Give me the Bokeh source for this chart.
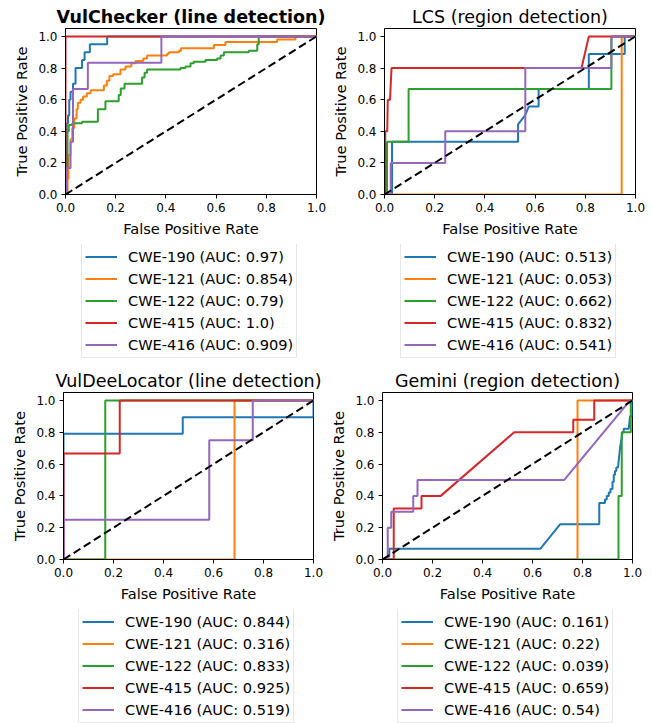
from bokeh.plotting import figure
from bokeh.models import Legend, LegendItem, FixedTicker, PrintfTickFormatter, Range1d
from bokeh.layouts import column, row
from bokeh.embed import file_html
from bokeh.resources import INLINE

CWES = ["CWE-190", "CWE-121", "CWE-122", "CWE-415", "CWE-416"]
COLORS = ["#1f77b4", "#ff7f0e", "#2ca02c", "#d62728", "#9467bd"]
TICKS = [0.0, 0.2, 0.4, 0.6, 0.8, 1.0]
FONT = "DejaVu Sans"

# ---------------- VulChecker (line detection) ----------------
VC_AUC = [0.97, 0.854, 0.79, 1.0, 0.909]
VC_FPR_190 = [0, 0.005, 0.005, 0.01, 0.01, 0.015, 0.015, 0.02, 0.02, 0.03, 0.03, 0.04, 0.04, 0.066, 0.066, 0.076, 0.076, 0.097, 0.097, 0.166, 0.166, 1.0]
VC_TPR_190 = [0, 0, 0.45, 0.45, 0.5, 0.5, 0.6, 0.6, 0.65, 0.65, 0.7, 0.7, 0.8, 0.8, 0.85, 0.85, 0.9, 0.9, 0.95, 0.95, 1.0, 1.0]
VC_FPR_121 = [0, 0.008, 0.008, 0.012, 0.012, 0.02, 0.02, 0.027, 0.027, 0.035, 0.035, 0.044, 0.044, 0.049, 0.049, 0.06, 0.06, 0.07, 0.07, 0.085, 0.085, 0.1, 0.1, 0.153, 0.153, 0.165, 0.165, 0.175, 0.175, 0.19, 0.19, 0.219, 0.219, 0.239, 0.239, 0.262, 0.262, 0.279, 0.279, 0.31, 0.31, 0.325, 0.325, 0.405, 0.405, 0.412, 0.412, 0.452, 0.452, 0.46, 0.46, 0.591, 0.591, 0.637, 0.637, 0.843, 0.843, 0.916, 0.916, 1.0]
VC_TPR_121 = [0, 0, 0.1, 0.1, 0.25, 0.25, 0.35, 0.35, 0.42, 0.42, 0.48, 0.48, 0.54, 0.54, 0.58, 0.58, 0.6, 0.6, 0.62, 0.62, 0.64, 0.64, 0.66, 0.66, 0.69, 0.69, 0.72, 0.72, 0.75, 0.75, 0.76, 0.76, 0.79, 0.79, 0.81, 0.81, 0.83, 0.83, 0.845, 0.845, 0.86, 0.86, 0.88, 0.88, 0.89, 0.89, 0.9, 0.9, 0.91, 0.91, 0.925, 0.925, 0.945, 0.945, 0.965, 0.965, 0.98, 0.98, 1.0, 1.0]
VC_FPR_122 = [0, 0.004, 0.004, 0.008, 0.008, 0.013, 0.013, 0.027, 0.027, 0.066, 0.066, 0.129, 0.129, 0.159, 0.159, 0.212, 0.212, 0.22, 0.22, 0.235, 0.235, 0.305, 0.305, 0.315, 0.315, 0.325, 0.325, 0.458, 0.458, 0.478, 0.478, 0.498, 0.498, 0.511, 0.511, 0.558, 0.558, 0.604, 0.604, 0.618, 0.618, 0.631, 0.631, 0.73, 0.73, 0.764, 0.764, 0.77, 0.77, 1.0]
VC_TPR_122 = [0, 0, 0.17, 0.17, 0.4, 0.4, 0.44, 0.44, 0.45, 0.45, 0.46, 0.46, 0.54, 0.54, 0.59, 0.59, 0.63, 0.63, 0.67, 0.67, 0.7, 0.7, 0.74, 0.74, 0.77, 0.77, 0.79, 0.79, 0.8, 0.8, 0.81, 0.81, 0.83, 0.83, 0.84, 0.84, 0.85, 0.85, 0.86, 0.86, 0.88, 0.88, 0.9, 0.9, 0.91, 0.91, 0.95, 0.95, 1.0, 1.0]
VC_FPR_415 = [0, 0, 1.0]
VC_TPR_415 = [0, 1.0, 1.0]
VC_FPR_416 = [0, 0.005, 0.005, 0.02, 0.02, 0.03, 0.03, 0.089, 0.089, 0.382, 0.382, 1.0]
VC_TPR_416 = [0, 0, 0.167, 0.167, 0.333, 0.333, 0.667, 0.667, 0.833, 0.833, 1.0, 1.0]

# ---------------- LCS (region detection) ----------------
LCS_AUC = [0.513, 0.053, 0.662, 0.832, 0.541]
LCS_FPR_190 = [0, 0.03, 0.03, 0.532, 0.532, 0.56, 0.575, 0.614, 0.614, 0.814, 0.814, 0.957, 0.957, 1.0]
LCS_TPR_190 = [0, 0, 0.333, 0.333, 0.444, 0.5, 0.556, 0.556, 0.667, 0.667, 0.889, 0.889, 1.0, 1.0]
LCS_FPR_121 = [0, 0.945, 0.945, 1.0]
LCS_TPR_121 = [0, 0, 1.0, 1.0]
LCS_FPR_122 = [0, 0.01, 0.01, 0.096, 0.096, 0.904, 0.904, 1.0]
LCS_TPR_122 = [0, 0, 0.333, 0.333, 0.667, 0.667, 1.0, 1.0]
LCS_FPR_415 = [0, 0.003, 0.003, 0.011, 0.013, 0.022, 0.028, 0.785, 0.814, 1.0]
LCS_TPR_415 = [0, 0, 0.4, 0.4, 0.6, 0.6, 0.8, 0.8, 1.0, 1.0]
LCS_FPR_416 = [0, 0.025, 0.025, 0.242, 0.242, 0.561, 0.561, 0.904, 0.904, 1.0]
LCS_TPR_416 = [0, 0, 0.2, 0.2, 0.4, 0.4, 0.8, 0.8, 1.0, 1.0]

# ---------------- VulDeeLocator (line detection) ----------------
VDL_AUC = [0.844, 0.316, 0.833, 0.925, 0.519]
VDL_FPR_190 = [0, 0, 0.477, 0.477, 1.0, 1.0]
VDL_TPR_190 = [0, 0.79, 0.79, 0.895, 0.895, 1.0]
VDL_FPR_121 = [0, 0.684, 0.684, 1.0]
VDL_TPR_121 = [0, 0, 1.0, 1.0]
VDL_FPR_122 = [0, 0.167, 0.167, 1.0]
VDL_TPR_122 = [0, 0, 1.0, 1.0]
VDL_FPR_415 = [0, 0, 0.225, 0.225, 1.0]
VDL_TPR_415 = [0, 0.667, 0.667, 1.0, 1.0]
VDL_FPR_416 = [0, 0, 0.583, 0.583, 0.757, 0.757, 1.0]
VDL_TPR_416 = [0, 0.25, 0.25, 0.75, 0.75, 1.0, 1.0]

# ---------------- Gemini (region detection) ----------------
GEM_AUC = [0.161, 0.22, 0.039, 0.659, 0.54]
GEM_FPR_190 = [0, 0.027, 0.027, 0.631, 0.711, 0.867, 0.867, 0.89, 0.89, 0.897, 0.897, 0.905, 0.905, 0.912, 0.912, 0.92, 0.92, 0.925, 0.925, 0.93, 0.93, 0.935, 0.935, 0.942, 0.95, 0.96, 0.965, 0.965, 0.985, 0.99, 1.0, 1.0]
GEM_TPR_190 = [0, 0.02, 0.067, 0.067, 0.222, 0.222, 0.356, 0.356, 0.378, 0.378, 0.4, 0.4, 0.422, 0.422, 0.444, 0.444, 0.489, 0.489, 0.533, 0.533, 0.556, 0.556, 0.578, 0.578, 0.7, 0.8, 0.8, 0.822, 0.822, 0.9, 0.9, 1.0]
GEM_FPR_121 = [0, 0.78, 0.78, 1.0]
GEM_TPR_121 = [0, 0, 1.0, 1.0]
GEM_FPR_122 = [0, 0.944, 0.944, 0.957, 0.957, 0.993, 0.993, 1.0]
GEM_TPR_122 = [0, 0, 0.4, 0.4, 0.8, 0.8, 1.0, 1.0]
GEM_FPR_415 = [0, 0.045, 0.045, 0.156, 0.156, 0.233, 0.527, 0.763, 0.763, 0.847, 0.847, 1.0]
GEM_TPR_415 = [0, 0, 0.32, 0.32, 0.4, 0.4, 0.8, 0.8, 0.879, 0.879, 1.0, 1.0]
GEM_FPR_416 = [0, 0.021, 0.021, 0.035, 0.035, 0.123, 0.123, 0.14, 0.14, 0.727, 0.99, 1.0]
GEM_TPR_416 = [0, 0, 0.2, 0.2, 0.3, 0.3, 0.4, 0.4, 0.5, 0.5, 1.0, 1.0]

DIAG_X = [0, 1]
DIAG_Y = [0, 1]

LEG_BOX_H = 114


def make_panel(title, bold, curves, aucs, ml, fw, mr, fh, mt, leg_dx, leg_h):
    p = figure(frame_width=fw, frame_height=fh,
               x_range=Range1d(0, 1), y_range=Range1d(0, 1.05),
               output_backend="svg", toolbar_location=None,
               min_border_left=ml, min_border_right=mr,
               min_border_top=mt, min_border_bottom=50,
               background_fill_color="white", border_fill_color="white")
    p.title.text = title
    p.title.align = "center"
    p.title.text_font = FONT
    p.title.text_font_size = "17.5px"
    p.title.text_font_style = "bold" if bold else "normal"
    p.title.text_color = "black"
    p.title.standoff = 3
    p.grid.visible = False
    p.outline_line_color = "black"
    p.outline_line_width = 1
    p.outline_line_alpha = 1
    for ax in (p.xaxis[0], p.yaxis[0]):
        ax.ticker = FixedTicker(ticks=TICKS)
        ax.formatter = PrintfTickFormatter(format="%.1f")
        ax.minor_tick_line_color = None
        ax.major_tick_out = 4
        ax.major_tick_in = 0
        ax.major_label_standoff = 4
        ax.major_label_text_font = FONT
        ax.major_label_text_font_size = "12px"
        ax.major_label_text_color = "black"
        ax.axis_label_text_font = FONT
        ax.axis_label_text_font_size = "14.6px"
        ax.axis_label_text_font_style = "normal"
        ax.axis_label_text_color = "black"
        ax.axis_label_standoff = 5
        ax.axis_line_color = "black"
        ax.major_tick_line_color = "black"
    p.xaxis.axis_label = "False Positive Rate"
    p.yaxis.axis_label = "True Positive Rate"

    # separate, axis-less figure (same frame geometry) holding only the legend box
    lf = figure(frame_width=fw, frame_height=leg_h,
                x_range=Range1d(10, 11), y_range=Range1d(10, 11),
                x_axis_type=None, y_axis_type=None, output_backend="svg",
                toolbar_location=None, min_border_left=ml, min_border_right=mr,
                min_border_top=0, min_border_bottom=0,
                background_fill_color="white", border_fill_color="white")
    lf.outline_line_color = None
    lf.grid.visible = False

    items = []
    for (xs, ys), color, cwe, auc in zip(curves, COLORS, CWES, aucs):
        p.line(xs, ys, line_color=color, line_width=2)
        r = lf.line(xs, ys, line_color=color, line_width=2)
        items.append(LegendItem(label=f"{cwe} (AUC: {auc})", renderers=[r]))
    p.line(DIAG_X, DIAG_Y, line_color="black", line_width=2, line_dash="8 4")

    legend = Legend(items=items, location=(leg_dx, leg_h - LEG_BOX_H), orientation="vertical",
                    label_text_font=FONT, label_text_font_size="14.6px",
                    label_text_color="black",
                    glyph_width=32, glyph_height=19, label_height=19,
                    spacing=3, padding=3, label_standoff=11, margin=0,
                    border_line_color="#d0d0d0", border_line_width=1,
                    background_fill_color="white", background_fill_alpha=1)
    lf.add_layout(legend, "center")
    return column(p, lf)


c1 = make_panel("VulChecker (line detection)", True,
                [(VC_FPR_190, VC_TPR_190), (VC_FPR_121, VC_TPR_121), (VC_FPR_122, VC_TPR_122),
                 (VC_FPR_415, VC_TPR_415), (VC_FPR_416, VC_TPR_416)], VC_AUC,
                65, 251, 10, 166, 28, 16, 118)
c2 = make_panel("LCS (region detection)", False,
                [(LCS_FPR_190, LCS_TPR_190), (LCS_FPR_121, LCS_TPR_121), (LCS_FPR_122, LCS_TPR_122),
                 (LCS_FPR_415, LCS_TPR_415), (LCS_FPR_416, LCS_TPR_416)], LCS_AUC,
                58, 251, 17, 166, 28, 16, 118)
c3 = make_panel("VulDeeLocator (line detection)", False,
                [(VDL_FPR_190, VDL_TPR_190), (VDL_FPR_121, VDL_TPR_121), (VDL_FPR_122, VDL_TPR_122),
                 (VDL_FPR_415, VDL_TPR_415), (VDL_FPR_416, VDL_TPR_416)], VDL_AUC,
                63, 250, 13, 167, 30, 15, 114)
c4 = make_panel("Gemini (region detection)", False,
                [(GEM_FPR_190, GEM_TPR_190), (GEM_FPR_121, GEM_TPR_121), (GEM_FPR_122, GEM_TPR_122),
                 (GEM_FPR_415, GEM_TPR_415), (GEM_FPR_416, GEM_TPR_416)], GEM_AUC,
                56, 250, 20, 167, 30, 15, 114)

layout = column(row(c1, c2), row(c3, c4))
open("out.html", "w").write(file_html(layout, INLINE))
